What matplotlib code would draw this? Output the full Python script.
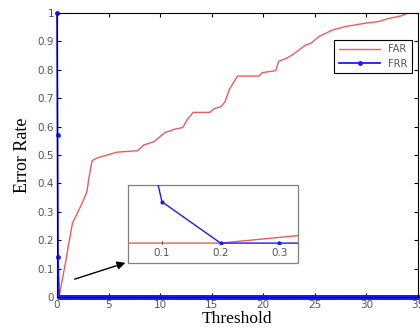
import numpy as np
import matplotlib
matplotlib.use("Agg")
import matplotlib.pyplot as plt
from matplotlib.patches import Rectangle, FancyArrowPatch

# FAR curve
far_t = [0, 0.2, 0.87, 1.1, 1.5, 2.3, 2.9, 3.1, 3.4, 3.9, 4.9, 5.8, 7.8, 8.4, 9.4,
         10.0, 10.5, 11.0, 11.3, 12.2, 12.6, 13.2, 14.8, 15.3, 15.9, 16.3, 16.7,
         17.5, 19.6, 19.9, 21.2, 21.5, 22.2, 22.8, 24.1, 24.6, 25.4, 26.7, 27.9,
         29.9, 31.2, 32.1, 33.4, 34.0, 35.0]
far_v = [0, 0, 0.13, 0.18, 0.26, 0.32, 0.37, 0.42, 0.48, 0.49, 0.50, 0.51, 0.515,
         0.535, 0.547, 0.565, 0.58, 0.585, 0.59, 0.597, 0.623, 0.65, 0.65, 0.664,
         0.67, 0.688, 0.73, 0.778, 0.778, 0.79, 0.797, 0.83, 0.84, 0.852, 0.887,
         0.893, 0.917, 0.94, 0.952, 0.964, 0.97, 0.98, 0.99, 1.0, 1.0]

# FRR: drops to zero right away, then stays at zero on the 0.1 threshold grid
frr_t = np.concatenate([[0, 0.05, 0.1], np.arange(0.2, 35.001, 0.1)])
frr_v = np.concatenate([[1.0, 0.57, 0.14], np.zeros(len(frr_t) - 3)])

xticks = [0, 5, 10, 15, 20, 25, 30, 35]
yticks = [0, 0.1, 0.2, 0.3, 0.4, 0.5, 0.6, 0.7, 0.8, 0.9, 1]
ytick_labels = ['0', '0.1', '0.2', '0.3', '0.4', '0.5', '0.6', '0.7', '0.8', '0.9', '1']
inset_ticks = [0.1, 0.2, 0.3]

red = '#f05a5a'
blue = '#1a1aff'
grey = '#555555'

W, H = 420, 329
fig = plt.figure(figsize=(4.2, 3.29), dpi=100)
fig.patch.set_facecolor('white')

# main axes
ax = fig.add_axes([57 / W, 1 - 297 / H, 361 / W, 284 / H])
ax.plot(far_t, far_v, color=red, lw=1.0, label='FAR')
ax.plot(frr_t, frr_v, color=blue, lw=1.3, marker='.', ms=5, label='FRR', clip_on=False)
ax.set_xlim(0, 35)
ax.set_ylim(0, 1)
ax.set_xticks(xticks)
ax.set_yticks(yticks)
ax.set_yticklabels(ytick_labels)
ax.tick_params(direction='in', top=True, right=True, length=3, labelsize=7.5,
               labelcolor=grey, pad=2)
for s in ax.spines.values():
    s.set_linewidth(0.8)
ax.set_xlabel('Threshold', family='Liberation Serif', fontsize=12.5, labelpad=1)
ax.set_ylabel('Error Rate', family='Liberation Serif', fontsize=13, labelpad=5)

leg = ax.legend(loc='upper right', bbox_to_anchor=(412 / W, 1 - 40 / H),
                bbox_transform=fig.transFigure, fontsize=7, fancybox=False,
                framealpha=1, edgecolor='black', borderpad=0.45, handlelength=4.3,
                labelspacing=0.45, borderaxespad=0)
leg.get_frame().set_linewidth(0.8)
for t in leg.get_texts():
    t.set_color(grey)

# inset box (frame goes around the tick labels)
fig.patches.append(Rectangle((128 / W, 1 - 263 / H), 170 / W, 78 / H,
                             transform=fig.transFigure, facecolor='white',
                             edgecolor='#808080', lw=0.9, zorder=3))
ins = fig.add_axes([128 / W, 1 - 244 / H, 170 / W, 59 / H], zorder=4)
ins.patch.set_alpha(0)
ins.plot(far_t, far_v, color=red, lw=1.0)
ins.plot(frr_t, frr_v, color=blue, lw=1.0, marker='.', ms=4)
ins.set_xlim(0.042, 0.332)
ins.set_ylim(-0.003, 0.197)
ins.set_xticks(inset_ticks)
ins.set_yticks([])
ins.tick_params(direction='in', length=2, labelsize=7.5, labelcolor=grey, pad=3)
for s in ins.spines.values():
    s.set_visible(False)

# arrow pointing at the zoomed region
fig.add_artist(FancyArrowPatch(
    (72 / W, 1 - 280 / H), (128 / W, 1 - 262 / H), transform=fig.transFigure,
    arrowstyle='-|>', mutation_scale=12, color='black', lw=1.0, zorder=5))

fig.savefig('out.png', dpi=100)
